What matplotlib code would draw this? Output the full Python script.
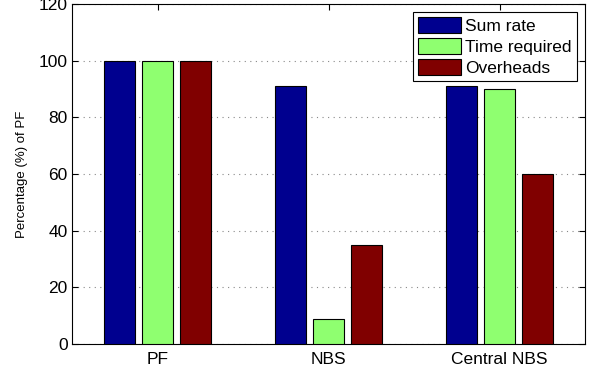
import matplotlib.pyplot as plt
import numpy as np

plt.rcParams['font.family'] = ['Liberation Sans', 'DejaVu Sans']

schemes = ["PF", "NBS", "Central NBS"]
sum_rate = [100, 91, 91]
time_required = [100, 9, 90]
overheads = [100, 35, 60]

series = [("Sum rate", sum_rate, "#00008f"),
          ("Time required", time_required, "#8fff70"),
          ("Overheads", overheads, "#800000")]

fig = plt.figure(figsize=(5.9, 3.75), dpi=100)
ax = fig.add_axes([72 / 590, 31 / 375, 513 / 590, 340 / 375])

x = np.arange(1, len(schemes) + 1)
step = 2 / 9  # MATLAB grouped bar spacing for 3 series
width = 0.8 * step
for i, (name, vals, col) in enumerate(series):
    ax.bar(x + (i - 1) * step, vals, width, color=col, edgecolor="black",
           linewidth=0.8, label=name, zorder=3)

ax.set_xlim(0.5, 3.5)
ax.set_ylim(0, 120)
ax.set_yticks(range(0, 121, 20))
ax.set_xticks(x)
ax.set_xticklabels(schemes)
ax.yaxis.grid(True, linestyle=(0, (1, 4)), color="#888888", linewidth=0.8, zorder=0)
ax.tick_params(direction="in", top=True, right=True, labelsize=12.5, length=4)
ax.tick_params(axis="x", pad=6)
ax.tick_params(axis="y", pad=3)
for s in ax.spines.values():
    s.set_linewidth(0.8)
ax.set_ylabel("Percentage (%) of PF", fontsize=9.5, labelpad=8)

leg = ax.legend(loc="upper right", fontsize=12.5, fancybox=False, framealpha=1,
                edgecolor="black", handlelength=2.5, handleheight=1.0,
                borderpad=0.3, labelspacing=0.25, handletextpad=0.25,
                borderaxespad=0.45)
leg.get_frame().set_linewidth(0.8)

fig.savefig("out.png", dpi=100)
